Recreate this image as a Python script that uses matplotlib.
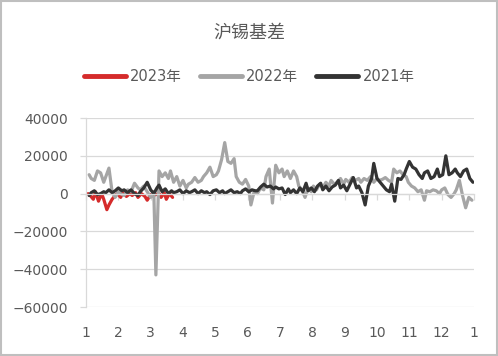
import numpy as np
import pandas as pd
import matplotlib
matplotlib.use("Agg")
import matplotlib.pyplot as plt
from matplotlib.patches import Rectangle

plt.rcParams['font.family'] = ['DejaVu Sans', 'Noto Sans CJK SC']

# basis values (yuan/ton), evenly spread between first and last date
basis_2023 = [0, -1000, -3000, 1000, -4000, 0, -3000, -8500, -6000, -3000, -1000, 0,
              -2000, 500, -1500, 0, -1000, 500, -2000, 0, -1500, -3500, -500, -1000,
              -500, 0, -2000, 500, -3000, 0, -2000]
basis_2022 = [10000, 8000, 7000, 12000, 11000, 6000, 9000, 13500, 1000, -2000, 1000, 0,
              -1000, 2000, 1000, 5500, 3000, 2000, 4000, 1000, -2000, 1000, -43000, 12000,
              9000, 11000, 8000, 12000, 6000, 9000, 4000, 7000, 3000, 5000, 6000, 8500,
              6000, 7000, 9000, 11000, 14000, 9000, 10000, 12000, 18000, 27000, 17000, 16000,
              18500, 9000, 6000, 5000, 7500, 4000, -6000, 1000, 0, 3000, 2000, 9000,
              13000, -5000, 15000, 11000, 13000, 9000, 12000, 8000, 12000, 9000, 4000, 2000,
              -2000, 3000, 1000, 4000, 2000, 5000, 3000, 6000, 4000, 7000, 5000, 6000,
              8000, 5000, 7500, 6000, 8500, 7000, 8000, 6000, 8000, 7000, 9000, 6000,
              8000, 7000, 7500, 8500, 7000, 6000, 13000, 11000, 12000, 10000, 9000, 6000,
              4000, 3000, 1000, 2000, -3500, 1500, 1000, 2000, 1500, 0, 2000, 3000,
              -500, -2000, 0, 2000, 7000, -1000, -7500, -2000, -3500]
basis_2021 = [-1000, 500, 1500, -500, 0, 1000, 500, 2000, 500, 1500, 3000, 1500,
              2000, 500, 2000, 0, -1000, 1000, 3000, 6000, 2000, 0, 3000, 4500,
              1000, 2500, 0, 1500, 500, 1000, 2000, 0, 1500, 500, 1000, 2000,
              0, 1500, 500, 1000, -500, 1500, 2000, 500, 1500, 0, 1000, 2000,
              500, 1000, 0, 1500, 2500, 1000, 2000, 1500, 1500, 3500, 5000, 3500,
              4000, 2500, 3500, 2500, 3000, -500, 2500, 500, 2000, 0, 3000, 1000,
              5500, 1500, 3000, 1000, 4000, 5500, 2000, 4000, 1500, 3500, 4500, 7000,
              3000, 4500, 1500, 5000, 8500, 3000, 4000, 500, -6000, 4000, 8000, 16000,
              8000, 6000, 4000, 2000, 1000, 5000, -4000, 8000, 7500, 10000, 13000, 17000,
              14000, 13000, 10000, 8000, 11000, 12000, 8000, 9000, 13000, 9000, 10000, 20000,
              10000, 11000, 13000, 11000, 9000, 12000, 13000, 8000, 6000]

series = [
    ("2023年", basis_2023, "2023-01-03", "2023-03-22", "#D52B2B"),
    ("2022年", basis_2022, "2022-01-04", "2022-12-30", "#A5A5A5"),
    ("2021年", basis_2021, "2021-01-04", "2021-12-31", "#333333"),
]
month_labels = ["1", "2", "3", "4", "5", "6", "7", "8", "9", "10", "11", "12", "1"]


def month_pos(dates):
    # fractional month position: 1.0 = Jan 1, 13.0 = next Jan 1
    return dates.month + (dates.day - 1) / dates.days_in_month


fig = plt.figure(figsize=(4.98, 3.56), dpi=100)
ax = fig.add_axes([0.1727, 0.1376, 0.7791, 0.5309])

for name, vals, start, end, color in series:
    dates = pd.date_range(start, end, periods=len(vals))
    ax.plot(month_pos(dates), vals, color=color, lw=2.3, label=name,
            solid_joinstyle='round', solid_capstyle='round')

grid_c = "#D9D9D9"
text_c = "#595959"
ax.set_xlim(1, 13)
ax.set_ylim(-60000, 40000)
ax.set_yticks(np.arange(-60000, 40001, 20000))
ax.yaxis.grid(True, color=grid_c, lw=0.9)
ax.set_axisbelow(True)
ax.tick_params(axis='y', length=4.5, color=grid_c, width=0.9, pad=8.5,
               labelsize=10, labelcolor=text_c)

for s in ['top', 'right']:
    ax.spines[s].set_visible(False)
ax.spines['left'].set_color(grid_c)
ax.spines['left'].set_linewidth(0.9)
ax.spines['bottom'].set_position(('data', 0))
ax.spines['bottom'].set_color(grid_c)
ax.spines['bottom'].set_linewidth(0.9)
ax.set_xticks(np.arange(1, 14))
ax.tick_params(axis='x', length=4, color=grid_c, width=0.9, labelbottom=False)

sec = ax.secondary_xaxis(0)
sec.set_xticks(np.arange(1, 14), month_labels)
sec.tick_params(length=0, pad=14, labelsize=10, labelcolor=text_c)
sec.spines['bottom'].set_visible(False)

fig.text(0.5, 1 - 33 / 356, "沪锡基差", ha='center', va='center', fontsize=13,
         color=text_c, family=['Noto Sans CJK SC'])

leg = fig.legend(loc='center', bbox_to_anchor=(0.5, 1 - 77 / 356), ncol=3,
                 frameon=False, fontsize=10.5, handlelength=2.9, handletextpad=0.3,
                 columnspacing=1.2, prop={'family': ['DejaVu Sans', 'Noto Sans CJK SC'],
                                          'size': 10.5})
for t in leg.get_texts():
    t.set_color(text_c)
for h in leg.get_lines():
    h.set_linewidth(3.5)

fig.patches.append(Rectangle((0.002, 0.003), 0.996, 0.994, transform=fig.transFigure,
                             fill=False, edgecolor="#BFBFBF", lw=1.5))

fig.savefig("out.png", dpi=100)
